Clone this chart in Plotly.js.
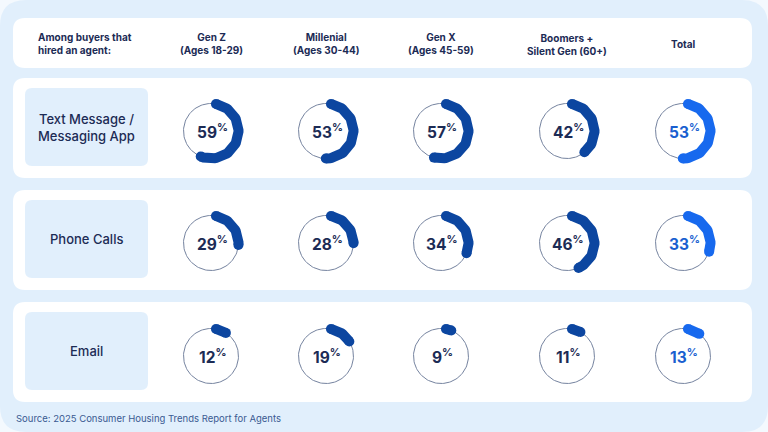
<!DOCTYPE html>
<html>
<head>
<meta charset="utf-8">
<script src="https://cdn.plot.ly/plotly-3.0.1.min.js"></script>
<style>html,body{margin:0;padding:0;background:#f4f9fe;}#chart{width:768px;height:432px;}</style>
</head>
<body>
<div id="chart"></div>
<script>
// ---- data ----
var groups = ['Gen Z<br>(Ages 18-29)', 'Millenial<br>(Ages 30-44)', 'Gen X<br>(Ages 45-59)', 'Boomers +<br>Silent Gen (60+)', 'Total'];
var channels = ['Text Message /<br>Messaging App', 'Phone Calls', 'Email'];
var textMessage = [59, 53, 57, 42, 53];
var phoneCalls = [29, 28, 34, 46, 33];
var email = [12, 19, 9, 11, 13];
var headerLabel = 'Among buyers that<br>hired an agent:';
var sourceText = 'Source: 2025 Consumer Housing Trends Report for Agents';

// ---- layout constants ----
var colX = [211, 326, 441, 567, 683];
var rowY = [131, 243, 356];
var R = 27.5;
var ARC_W = 10;
var darkBlue = '#0c46a0';
var brightBlue = '#1769ee';
var navy = '#1c2b55';
var FONT = 'Inter, "Open Sans", sans-serif';

function rrect(x0, y0, x1, y1, r) {
  return 'M' + (x0 + r) + ',' + y0 + ' L' + (x1 - r) + ',' + y0 + ' Q' + x1 + ',' + y0 + ' ' + x1 + ',' + (y0 + r) +
    ' L' + x1 + ',' + (y1 - r) + ' Q' + x1 + ',' + y1 + ' ' + (x1 - r) + ',' + y1 +
    ' L' + (x0 + r) + ',' + y1 + ' Q' + x0 + ',' + y1 + ' ' + x0 + ',' + (y1 - r) +
    ' L' + x0 + ',' + (y0 + r) + ' Q' + x0 + ',' + y0 + ' ' + (x0 + r) + ',' + y0 + ' Z';
}

var shapes = [];
shapes.push({type: 'path', path: rrect(0, 0, 768, 432, 26), fillcolor: '#e1effc', line: {width: 0}, layer: 'below'});
shapes.push({type: 'path', path: rrect(13, 18, 752, 68, 12), fillcolor: '#ffffff', line: {width: 0}, layer: 'below'});
var panelTop = [78, 190, 302];
panelTop.forEach(function (t) {
  shapes.push({type: 'path', path: rrect(13, t, 752, t + 100, 12), fillcolor: '#ffffff', line: {width: 0}, layer: 'below'});
  shapes.push({type: 'path', path: rrect(25, t + 10, 148, t + 88, 7), fillcolor: '#e1effc', line: {width: 0}, layer: 'below'});
});

var traces = [];
var annotations = [];
var series = [textMessage, phoneCalls, email];

function arcPts(cx, cy, r, d0, d1) {
  var xs = [], ys = [];
  var n = Math.max(2, Math.round((d1 - d0) / 3));
  for (var i = 0; i <= n; i++) {
    var a = (d0 + (d1 - d0) * i / n) * Math.PI / 180;
    xs.push(cx + r * Math.sin(a));
    ys.push(cy - r * Math.cos(a));
  }
  return {x: xs, y: ys};
}

var capDeg = (ARC_W / 2) / R * 180 / Math.PI;

series.forEach(function (vals, ri) {
  vals.forEach(function (v, ci) {
    var cx = colX[ci], cy = rowY[ri];
    var col = ci === 4 ? brightBlue : darkBlue;
    var ring = arcPts(cx, cy, R, 0, 360);
    traces.push({type: 'scatter', mode: 'lines', x: ring.x, y: ring.y, line: {color: '#75839f', width: 1}, hoverinfo: 'skip', showlegend: false});
    var total = v * 3.6;
    var d0 = capDeg, d1 = total - capDeg;
    if (d1 < d0) { d0 = d1 = total / 2; }
    var arc = arcPts(cx, cy, R, d0, d1);
    traces.push({type: 'scatter', mode: 'lines', x: arc.x, y: arc.y, line: {color: col, width: ARC_W}, hoverinfo: 'skip', showlegend: false});
    traces.push({type: 'scatter', mode: 'markers', x: [arc.x[0], arc.x[arc.x.length - 1]], y: [arc.y[0], arc.y[arc.y.length - 1]],
      marker: {color: col, size: ARC_W, line: {width: 0}}, hoverinfo: 'skip', showlegend: false});
    annotations.push({x: cx + 1, y: cy, xref: 'x', yref: 'y', showarrow: false,
      text: '<b>' + v + '</b><sup><b>%</b></sup>',
      font: {family: FONT, size: 15.5, color: ci === 4 ? '#1a5fd0' : navy}});
  });
});

annotations.push({x: 36, y: 44, xref: 'x', yref: 'y', xanchor: 'left', showarrow: false, align: 'left',
  text: '<b>' + headerLabel + '</b>', font: {family: FONT, size: 10, color: navy}});
groups.forEach(function (g, ci) {
  annotations.push({x: colX[ci], y: 44, xref: 'x', yref: 'y', showarrow: false, align: 'center',
    text: '<b>' + g + '</b>', font: {family: FONT, size: 10, color: navy}});
});
channels.forEach(function (c, ri) {
  annotations.push({x: 86.5, y: panelTop[ri] + 49, xref: 'x', yref: 'y', showarrow: false, align: 'center',
    text: c, font: {family: FONT, size: 13, color: navy, weight: 500}});
});
annotations.push({x: 14, y: 418, xref: 'x', yref: 'y', xanchor: 'left', showarrow: false,
  text: sourceText, font: {family: FONT, size: 9.5, color: '#3a5a92'}});

var layout = {
  width: 768, height: 432,
  margin: {l: 0, r: 0, t: 0, b: 0},
  paper_bgcolor: '#f4f9fe', plot_bgcolor: 'rgba(0,0,0,0)',
  xaxis: {range: [0, 768], visible: false, fixedrange: true},
  yaxis: {range: [432, 0], visible: false, fixedrange: true},
  shapes: shapes, annotations: annotations, showlegend: false
};
Plotly.newPlot('chart', traces, layout, {displayModeBar: false, staticPlot: true});
</script>
</body>
</html>
